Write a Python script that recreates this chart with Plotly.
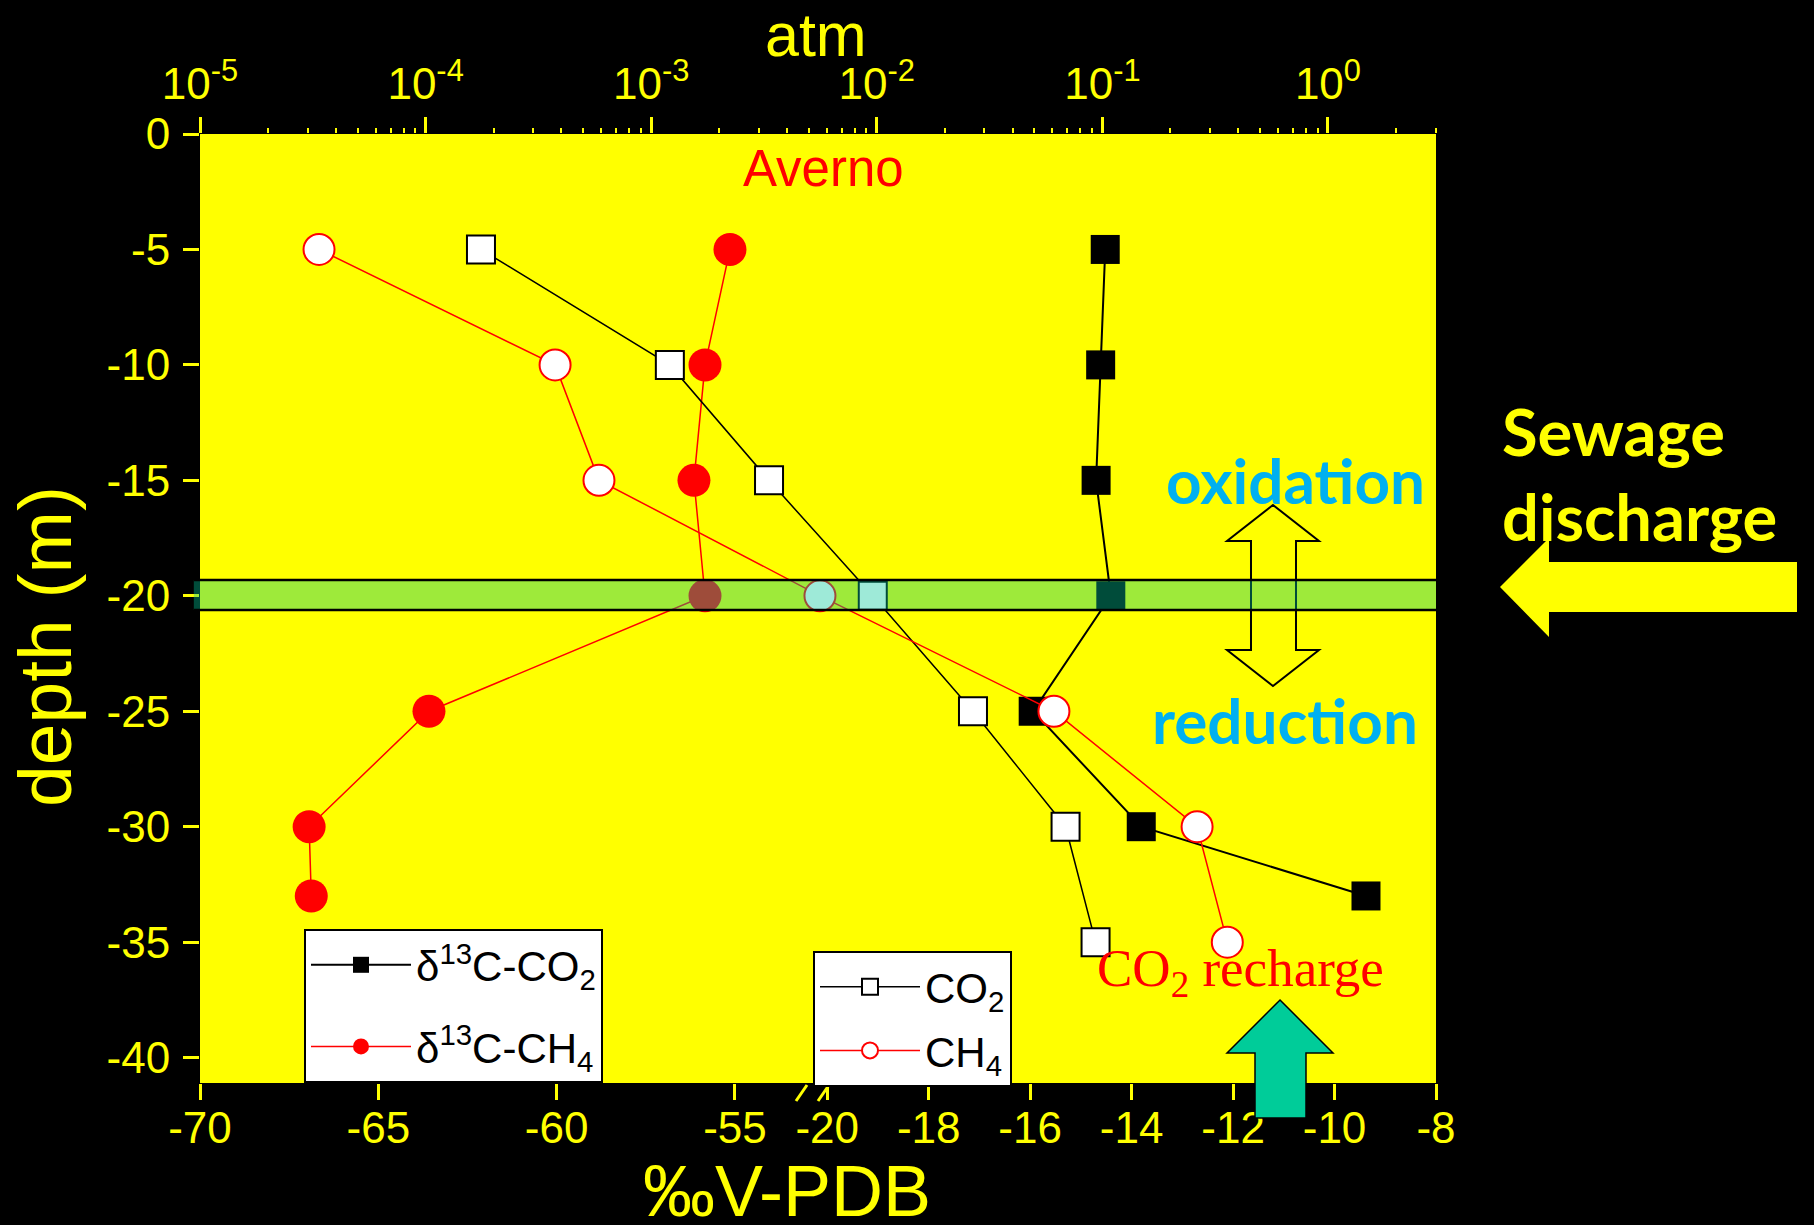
import plotly.graph_objects as go

# ---------------- data ----------------
# isotopic composition (permil V-PDB) versus depth
depth_iso = [-5, -10, -15, -20, -25, -30, -33]
d13c_co2 = [-14.52, -14.61, -14.70, -14.41, -15.94, -13.81, -9.38]
d13c_ch4 = [-55.14, -55.84, -56.15, -55.84, -63.58, -66.94, -66.88]

# dissolved gas partial pressures (atm) versus depth
depth_gas = [-5, -10, -15, -20, -25, -30, -35]
co2_atm = [1.76e-4, 1.21e-3, 3.33e-3, 9.6e-3, 0.0267, 0.0687, 0.0933]
ch4_atm = [3.37e-5, 3.75e-4, 5.87e-4, 5.6e-3, 0.061, 0.263, 0.358]

# axis ticks
depth_ticks = [0, -5, -10, -15, -20, -25, -30, -35, -40]
ch4_scale_ticks = [-70, -65, -60, -55]
co2_scale_ticks = [-20, -18, -16, -14, -12, -10, -8]
atm_ticks = [1e-5, 1e-4, 1e-3, 1e-2, 1e-1, 1e0]
atm_labels = ["10<sup>-5</sup>", "10<sup>-4</sup>", "10<sup>-3</sup>",
              "10<sup>-2</sup>", "10<sup>-1</sup>", "10<sup>0</sup>"]
atm_minor = [m * 10.0 ** e for e in range(-5, 1) for m in range(2, 10)]

# ---------------- layout geometry (pixels) ----------------
W, H = 1814, 1225
L, R, T, B = 200, 1436, 134, 1083      # plotting area edges
BREAK = 812                             # where the broken bottom axis switches scale

YEL = "#ffff00"
SANS = "Liberation Sans, Arial, sans-serif"
SERIF = "Liberation Serif, Times New Roman, serif"
ROUND = "Lato, Noto Sans, sans-serif"
TICK_SIZE = 44


def fx(px):
    return (px - L) / (R - L)


def fy(py):
    return (B - py) / (B - T)


def poly(points):
    return "M " + " L ".join(f"{fx(x):.5f},{fy(y):.5f}" for x, y in points) + " Z"


fig = go.Figure()

# delta13C of CO2 on the right part of the broken bottom axis
fig.add_trace(go.Scatter(
    x=d13c_co2, y=depth_iso, xaxis="x2", yaxis="y", mode="lines+markers",
    name="δ<sup>13</sup>C-CO<sub>2</sub>", legend="legend", legendgroup="a",
    line=dict(color="black", width=2),
    marker=dict(symbol="square", size=29, color="black", line=dict(width=0)),
))
# delta13C of CH4 on the left part of the broken bottom axis
fig.add_trace(go.Scatter(
    x=d13c_ch4, y=depth_iso, xaxis="x", yaxis="y", mode="lines+markers",
    name="δ<sup>13</sup>C-CH<sub>4</sub>", legend="legend", legendgroup="b",
    line=dict(color="red", width=1.5),
    marker=dict(symbol="circle", size=33, color="red", line=dict(width=0)),
))
# CO2 partial pressure on the top log axis
fig.add_trace(go.Scatter(
    x=co2_atm, y=depth_gas, xaxis="x3", yaxis="y", mode="lines+markers",
    name="CO<sub>2</sub>", legend="legend2", legendgroup="c",
    line=dict(color="black", width=1.5),
    marker=dict(symbol="square", size=28, color="white", line=dict(color="black", width=2)),
))
# CH4 partial pressure on the top log axis
fig.add_trace(go.Scatter(
    x=ch4_atm, y=depth_gas, xaxis="x3", yaxis="y", mode="lines+markers",
    name="CH<sub>4</sub>", legend="legend2", legendgroup="d",
    line=dict(color="red", width=1.5),
    marker=dict(symbol="circle", size=31, color="white", line=dict(color="red", width=2)),
))

# tick labels inherit the layout font (yellow, TICK_SIZE)
tick_common = dict(
    ticks="outside", ticklen=16, tickwidth=3, tickcolor=YEL,
    showgrid=False, zeroline=False, showline=False, tickmode="array",
)

split = fx(BREAK)

shapes = [
    # plotting area
    dict(type="rect", xref="paper", yref="paper", x0=0, x1=1, y0=0, y1=1,
         fillcolor=YEL, line=dict(width=0), layer="below"),
    # oxidation / reduction double arrow
    dict(type="path", xref="paper", yref="paper", layer="above",
         path=poly([(1273, 505), (1319, 541), (1296, 541), (1296, 650), (1319, 650),
                    (1273, 686), (1227, 650), (1251, 650), (1251, 541), (1227, 541)]),
         fillcolor=YEL, line=dict(color="black", width=2)),
    # redox interface band at -20 m
    dict(type="rect", xref="paper", yref="y", x0=-0.005, x1=1, y0=-19.32, y1=-20.62,
         fillcolor="rgba(0,200,152,0.38)", line=dict(width=0), layer="above"),
    dict(type="line", xref="paper", yref="y", x0=-0.005, x1=1, y0=-19.32, y1=-19.32,
         line=dict(color="black", width=2.5), layer="above"),
    dict(type="line", xref="paper", yref="y", x0=-0.005, x1=1, y0=-20.62, y1=-20.62,
         line=dict(color="black", width=2.5), layer="above"),
    # sewage discharge arrow
    dict(type="path", xref="paper", yref="paper", layer="above",
         path=poly([(1500, 587), (1549, 538), (1549, 562), (1797, 562),
                    (1797, 612), (1549, 612), (1549, 637)]),
         fillcolor=YEL, line=dict(width=0)),
    # CO2 recharge arrow
    dict(type="path", xref="paper", yref="paper", layer="above",
         path=poly([(1280, 1000), (1333, 1053), (1306, 1053), (1306, 1118),
                    (1255, 1118), (1255, 1053), (1227, 1053)]),
         fillcolor="#00cc99", line=dict(color="black", width=1.5)),
    # axis break marks
    dict(type="line", xref="paper", yref="paper", x0=fx(796), x1=fx(807),
         y0=fy(1101), y1=fy(1085), line=dict(color=YEL, width=3)),
    dict(type="line", xref="paper", yref="paper", x0=fx(818), x1=fx(829),
         y0=fy(1101), y1=fy(1085), line=dict(color=YEL, width=3)),
]

annotations = [
    dict(text="atm", x=fx(816), y=fy(35), font=dict(family=SANS, size=61, color=YEL)),
    dict(text="depth (m)", x=fx(45), y=fy(647), textangle=-90,
         font=dict(family=SANS, size=75, color=YEL)),
    dict(text="‰V-PDB", x=fx(787), y=fy(1191), font=dict(family=SANS, size=72, color=YEL)),
    dict(text="Averno", x=fx(823), y=fy(168), font=dict(family=SANS, size=51, color="red")),
    dict(text="<b>oxidation</b>", x=fx(1295), y=fy(480),
         font=dict(family=ROUND, size=62, color="#00b0f0")),
    dict(text="<b>reduction</b>", x=fx(1285), y=fy(720),
         font=dict(family=ROUND, size=62, color="#00b0f0")),
    dict(text="<b>Sewage<br>discharge</b>", x=fx(1500), y=fy(474), xanchor="left",
         align="left", font=dict(family=ROUND, size=65, color=YEL)),
    dict(text="CO<sub>2</sub> recharge", x=fx(1240), y=fy(972),
         font=dict(family=SERIF, size=53, color="red")),
]
for a in annotations:
    a.update(xref="paper", yref="paper", showarrow=False)
    a.setdefault("xanchor", "center")
    a.setdefault("yanchor", "middle")

legend_common = dict(
    xanchor="left", yanchor="top", bgcolor="white", bordercolor="black", borderwidth=2,
    font=dict(family=SANS, size=42, color="black"), itemwidth=100,
    traceorder="grouped",
)

fig.update_layout(
    width=W, height=H,
    margin=dict(l=L, r=W - R, t=T, b=H - B, pad=0),
    paper_bgcolor="black", plot_bgcolor="rgba(0,0,0,0)",
    font=dict(family=SANS, size=TICK_SIZE, color=YEL),
    showlegend=True,
    xaxis=dict(domain=[0, split], range=[-70, -52.84], anchor="y",
               tickvals=ch4_scale_ticks, ticktext=[str(v) for v in ch4_scale_ticks],
               ticklabelstandoff=-10, **tick_common),
    xaxis2=dict(domain=[split, 1], range=[-20.3, -8], anchor="y",
                tickvals=co2_scale_ticks, ticktext=[str(v) for v in co2_scale_ticks],
                ticklabelstandoff=-10, **tick_common),
    xaxis3=dict(domain=[0, 1], type="log", range=[-5, 0.479], anchor="y", side="top",
                tickvals=atm_ticks, ticktext=atm_labels,
                minor=dict(tickvals=atm_minor, ticks="outside", ticklen=5,
                           tickwidth=2, tickcolor=YEL, showgrid=False),
                **tick_common),
    yaxis=dict(domain=[0, 1], range=[-41.1, 0], anchor="x",
               tickvals=depth_ticks, ticktext=[str(v) for v in depth_ticks],
               ticklabelstandoff=4, **tick_common),
    legend=dict(x=fx(304), y=fy(929), tracegroupgap=24, **legend_common),
    legend2=dict(x=fx(813), y=fy(951), tracegroupgap=6, **legend_common),
    shapes=shapes,
    annotations=annotations,
)

fig.write_html("out.html")
